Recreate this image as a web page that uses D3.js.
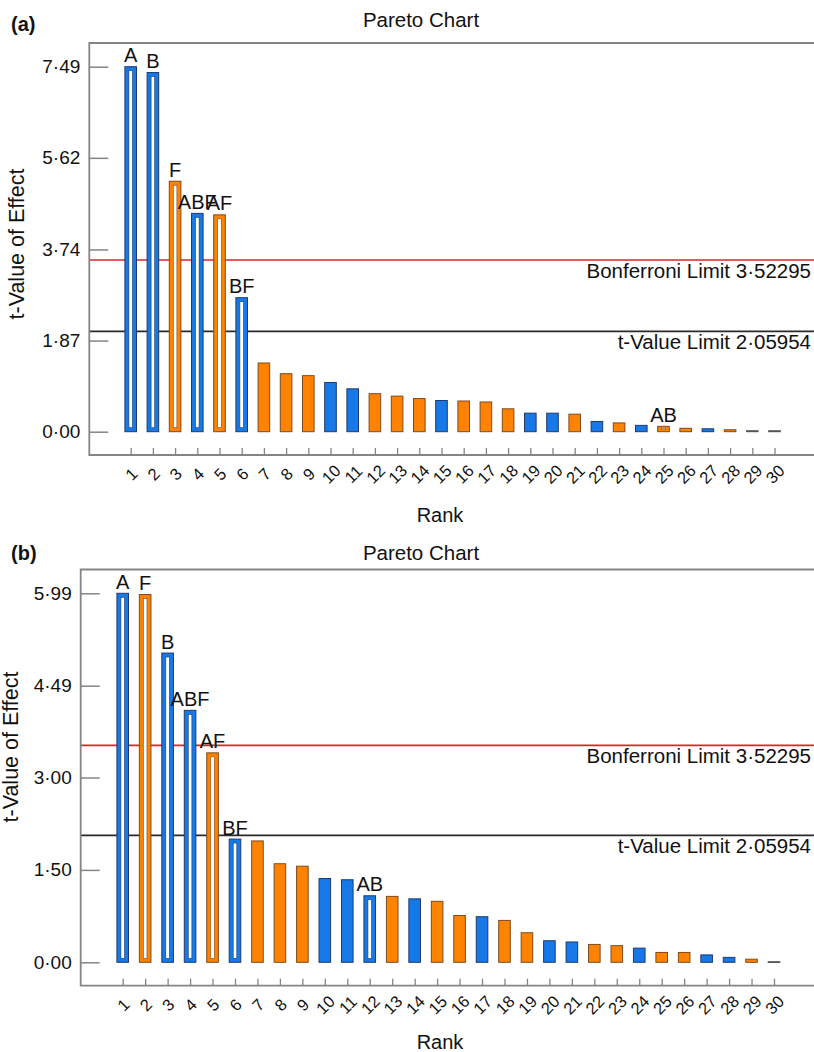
<!DOCTYPE html>

<head>
  <meta charset="utf-8" />
  <script src="https://d3js.org/d3.v7.min.js"></script>
  <style>
    body {
      margin: 0;
      background: #fff;
    }
    text {
      font-family: "Liberation Sans", Arial, Helvetica, sans-serif;
      fill: #111;
    }
  </style>
</head>

<body>
  <script>

    // ranks on the x axis (same for both panels)
    var ranks = [1, 2, 3, 4, 5, 6, 7, 8, 9, 10, 11, 12, 13, 14, 15,
      16, 17, 18, 19, 20, 21, 22, 23, 24, 25, 26, 27, 28, 29, 30];

    // panel (a)
    var valuesA = [7.49, 7.37, 5.14, 4.48, 4.45, 2.75, 1.41, 1.19, 1.15, 1.01,
      0.88, 0.78, 0.73, 0.68, 0.64, 0.63, 0.61, 0.47, 0.38, 0.38,
      0.36, 0.21, 0.18, 0.13, 0.11, 0.07, 0.06, 0.04, 0.02, 0.02];
    var kindsA = ["b", "b", "o", "b", "o", "b", "o", "o", "o", "b",
      "b", "o", "o", "o", "b", "o", "o", "o", "b", "b",
      "o", "b", "o", "b", "o", "o", "b", "o", "n", "n"];
    var labelsA = ["A", "B", "F", "ABF", "AF", "BF", "", "", "", "",
      "", "", "", "", "", "", "", "", "", "",
      "", "", "", "", "AB", "", "", "", "", ""];
    var yTicksA = [0, 1.87, 3.74, 5.62, 7.49];

    // panel (b)
    var valuesB = [5.99, 5.97, 5.02, 4.09, 3.40, 2.00, 1.97, 1.60, 1.56, 1.36,
      1.34, 1.08, 1.07, 1.03, 0.99, 0.76, 0.74, 0.68, 0.48, 0.35,
      0.33, 0.29, 0.27, 0.23, 0.16, 0.16, 0.12, 0.08, 0.05, 0.01];
    var kindsB = ["b", "o", "b", "b", "o", "b", "o", "o", "o", "b",
      "b", "b", "o", "b", "o", "o", "b", "o", "o", "b",
      "b", "o", "o", "b", "o", "o", "b", "b", "o", "n"];
    var labelsB = ["A", "F", "B", "ABF", "AF", "BF", "", "", "", "",
      "", "AB", "", "", "", "", "", "", "", "",
      "", "", "", "", "", "", "", "", "", ""];
    var yTicksB = [0, 1.50, 3.00, 4.49, 5.99];

    // limits (same in both panels)
    var bonferroni = 3.52295;
    var tLimit = 2.05954;

    var width = 814,
      height = 1052;

    var fill = { b: "#1779e8", o: "#ff8300", n: "#8a8a8a" };
    var edge = { b: "#1d3a6e", o: "#7e4a1f", n: "#555" };
    var frameColor = "#858585";

    var svg = d3.select("body").append("svg")
      .attr("width", width)
      .attr("height", height);

    function dot(v) {
      return v.toFixed(2).replace(".", "\u00B7");
    }
    function dot5(v) {
      return v.toFixed(5).replace(".", "\u00B7");
    }

    function drawPanel(p) {
      var g = svg.append("g");

      var x = d3.scalePoint().domain(ranks).range(p.xRange);
      var y = d3.scaleLinear().domain([0, p.yTicks[p.yTicks.length - 1]]).range(p.yRange);
      var bw = 11.6;

      // panel tag + title
      g.append("text").attr("x", 11).attr("y", p.tagY)
        .style("font-size", "20px").style("font-weight", "bold")
        .text(p.tag);
      g.append("text").attr("x", 421).attr("y", p.titleY)
        .attr("text-anchor", "middle").style("font-size", "20.5px")
        .text("Pareto Chart");

      // limit lines, behind the bars
      g.append("line")
        .attr("x1", p.left).attr("x2", width + 5)
        .attr("y1", y(bonferroni)).attr("y2", y(bonferroni))
        .attr("stroke", "#d8262a").attr("stroke-width", 1.7);
      g.append("line")
        .attr("x1", p.left).attr("x2", width + 5)
        .attr("y1", y(tLimit)).attr("y2", y(tLimit))
        .attr("stroke", "#2a2a2a").attr("stroke-width", 1.7);
      g.append("text").attr("x", 811).attr("y", y(bonferroni) + 17.5)
        .attr("text-anchor", "end").style("font-size", "20.5px")
        .text("Bonferroni Limit " + dot5(bonferroni));
      g.append("text").attr("x", 811).attr("y", y(tLimit) + 17.5)
        .attr("text-anchor", "end").style("font-size", "20.5px")
        .text("t-Value Limit " + dot5(tLimit));

      var data = ranks.map(function (r, i) {
        return { rank: r, v: p.values[i], k: p.kinds[i], lab: p.labels[i] };
      });

      // bars
      g.selectAll("rect.bar")
        .data(data)
        .join("rect")
        .attr("class", "bar")
        .attr("x", d => x(d.rank) - bw / 2)
        .attr("y", d => y(d.v))
        .attr("width", bw)
        .attr("height", d => Math.max(y(0) - y(d.v), 0.8))
        .attr("fill", d => fill[d.k])
        .attr("stroke", d => edge[d.k])
        .attr("stroke-width", 1);

      // hollow (labelled) bars get a white core
      var inset = 4;
      g.selectAll("rect.core")
        .data(data.filter(d => d.lab))
        .join("rect")
        .attr("class", "core")
        .attr("x", d => x(d.rank) - bw / 2 + inset)
        .attr("width", bw - 2 * inset)
        .attr("y", function (d) {
          var h = y(0) - y(d.v);
          var ih = Math.max(h - 2 * inset, 1.5);
          return y(d.v) + (h - ih) / 2;
        })
        .attr("height", function (d) {
          var h = y(0) - y(d.v);
          return Math.max(h - 2 * inset, 1.5);
        })
        .attr("fill", "#fff")
        .attr("stroke", d => edge[d.k])
        .attr("stroke-width", 0.6);

      // bar labels
      g.selectAll("text.lab")
        .data(data.filter(d => d.lab))
        .join("text")
        .attr("class", "lab")
        .attr("x", d => x(d.rank))
        .attr("y", d => y(d.v) - 4.5)
        .attr("text-anchor", "middle")
        .style("font-size", "20px")
        .text(d => d.lab);

      // y axis, ticks inside
      var yAxis = g.append("g")
        .attr("transform", "translate(" + p.left + ",0)")
        .call(d3.axisLeft(y).tickValues(p.yTicks).tickSize(-19).tickPadding(9).tickFormat(dot));
      yAxis.select(".domain").remove();
      yAxis.selectAll(".tick line").attr("stroke", frameColor).attr("stroke-width", 1.5);
      yAxis.selectAll(".tick text")
        .attr("font-family", null)
        .attr("fill", null)
        .style("font-size", "19px");

      // x axis, ticks pointing up, labels turned
      var xAxis = g.append("g")
        .attr("transform", "translate(0," + p.bottom + ")")
        .call(d3.axisBottom(x).tickSize(-7).tickSizeOuter(0));
      xAxis.select(".domain").remove();
      xAxis.selectAll(".tick line").attr("stroke", frameColor).attr("stroke-width", 1.3);
      xAxis.selectAll(".tick text")
        .attr("font-family", null)
        .attr("fill", null)
        .attr("y", 19)
        .attr("dy", null)
        .attr("dominant-baseline", "central")
        .attr("transform", "rotate(-45,0,19)")
        .style("font-size", "16.5px");

      // frame: top, left, bottom
      g.append("path")
        .attr("d", "M" + (width + 5) + "," + p.top + "H" + p.left + "V" + p.bottom + "H" + (width + 5))
        .attr("fill", "none")
        .attr("stroke", frameColor)
        .attr("stroke-width", 1.8);

      // axis titles
      g.append("text")
        .attr("transform", "translate(" + p.yLabelX + "," + p.yLabelY + ") rotate(-90)")
        .attr("text-anchor", "middle")
        .style("font-size", "21.5px")
        .text("t-Value of Effect");
      g.append("text")
        .attr("x", 440).attr("y", p.rankY)
        .attr("text-anchor", "middle")
        .style("font-size", "20px")
        .text("Rank");
    }

    drawPanel({
      tag: "(a)", tagY: 31, titleY: 27,
      values: valuesA, kinds: kindsA, labels: labelsA, yTicks: yTicksA,
      top: 43, bottom: 455, left: 89.3,
      xRange: [130.7, 774.5], yRange: [431.7, 66.7],
      yLabelX: 24, yLabelY: 244, rankY: 522
    });

    drawPanel({
      tag: "(b)", tagY: 560, titleY: 560,
      values: valuesB, kinds: kindsB, labels: labelsB, yTicks: yTicksB,
      top: 569.5, bottom: 985.7, left: 80.7,
      xRange: [122.7, 774], yRange: [962.3, 593.3],
      yLabelX: 17.5, yLabelY: 747, rankY: 1049
    });

  </script>
</body>
